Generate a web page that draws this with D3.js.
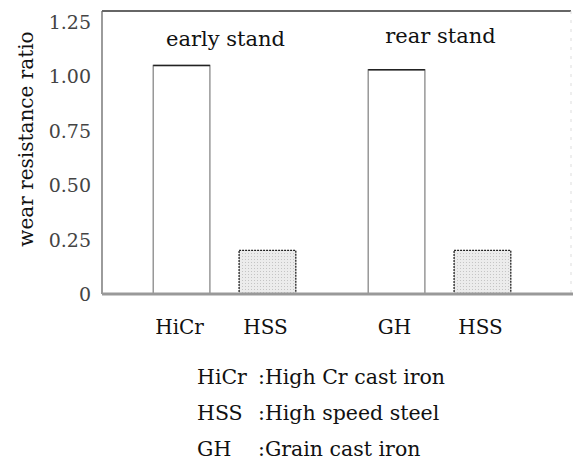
<!DOCTYPE html>
<html>
<head>
<meta charset="utf-8">
<script src="https://cdn.jsdelivr.net/npm/d3@7"></script>
<style>
  body { margin: 0; background: #fff; }
</style>
</head>
<body>
<svg id="chart" width="573" height="464" font-family="'DejaVu Serif', serif"></svg>
<script>
const groups = ['early stand', 'rear stand'];
const materials = [['HiCr', 'HSS'], ['GH', 'HSS']];
const ratios = [[1.05, 0.20], [1.03, 0.20]];
const yTicks = [0, 0.25, 0.5, 0.75, 1.0, 1.25];
const legendAbbr = ['HiCr', 'HSS', 'GH'];
const legendText = ['High Cr cast iron', 'High speed steel', 'Grain cast iron'];

const svg = d3.select('#chart');

const plotL = 102, plotR = 571, plotT = 11, plotB = 294;

const y = d3.scaleLinear().domain([0, 1.3]).range([plotB, plotT]);
const x0 = d3.scaleBand().domain(groups).range([124, 540]).paddingInner(0.065);
const x1 = d3.scaleBand().domain([0, 1]).range([0, x0.bandwidth()]).paddingInner(0.34).paddingOuter(0.34);

// stipple for HSS bars
const defs = svg.append('defs');
const pat = defs.append('pattern')
    .attr('id', 'stipple')
    .attr('patternUnits', 'userSpaceOnUse')
    .attr('width', 3).attr('height', 3);
pat.append('rect').attr('width', 3).attr('height', 3).attr('fill', '#ececec');
pat.append('rect').attr('x', 1).attr('y', 1).attr('width', 1).attr('height', 1).attr('fill', '#c4c4c4');

// frame
svg.append('line').attr('x1', plotL).attr('x2', plotR).attr('y1', plotT).attr('y2', plotT)
    .attr('stroke', '#333').attr('stroke-width', 1.6);
svg.append('line').attr('x1', plotL).attr('x2', plotL).attr('y1', plotT).attr('y2', plotB)
    .attr('stroke', '#666').attr('stroke-width', 1.3);
svg.append('line').attr('x1', plotR).attr('x2', plotR).attr('y1', plotT).attr('y2', plotB)
    .attr('stroke', '#ddd').attr('stroke-width', 1).attr('stroke-dasharray', '3,6');

// y axis labels
svg.append('g').selectAll('text')
    .data(yTicks)
    .enter().append('text')
    .attr('x', 91)
    .attr('y', d => y(d) + 7)
    .attr('text-anchor', 'end')
    .attr('font-size', 19)
    .attr('fill', '#444')
    .text(d => d === 0 ? '0' : d.toFixed(2));

svg.append('text')
    .attr('transform', 'translate(33,139) rotate(-90)')
    .attr('text-anchor', 'middle')
    .attr('font-size', 20)
    .attr('fill', '#111')
    .text('wear resistance ratio');

// bars
const g = svg.selectAll('.grp')
    .data(groups)
    .enter().append('g')
    .attr('class', 'grp')
    .attr('transform', d => `translate(${x0(d)},0)`);

g.selectAll('rect')
    .data((d, i) => ratios[i].map((v, j) => ({ v, j })))
    .enter().append('rect')
    .attr('x', d => x1(d.j))
    .attr('y', d => y(d.v))
    .attr('width', x1.bandwidth())
    .attr('height', d => y(0) - y(d.v))
    .attr('fill', d => d.j === 0 ? '#fff' : 'url(#stipple)')
    .attr('stroke', d => d.j === 0 ? '#888' : '#222')
    .attr('stroke-width', 1.3)
    .attr('stroke-dasharray', d => d.j === 0 ? null : '2,1');

// darker top edge on the tall bars
g.selectAll('.topedge')
    .data((d, i) => [{ v: ratios[i][0], j: 0 }])
    .enter().append('line')
    .attr('class', 'topedge')
    .attr('x1', d => x1(d.j))
    .attr('x2', d => x1(d.j) + x1.bandwidth())
    .attr('y1', d => y(d.v))
    .attr('y2', d => y(d.v))
    .attr('stroke', '#222')
    .attr('stroke-width', 1.5);

g.append('text')
    .attr('x', x0.bandwidth() / 2 + 1)
    .attr('y', (d, i) => i === 0 ? 46 : 43)
    .attr('text-anchor', 'middle')
    .attr('font-size', 21)
    .attr('fill', '#111')
    .text(d => d);

g.selectAll('.cat')
    .data((d, i) => materials[i].map((m, j) => ({ m, j })))
    .enter().append('text')
    .attr('class', 'cat')
    .attr('x', d => x1(d.j) + x1.bandwidth() / 2 - 2)
    .attr('y', 334)
    .attr('text-anchor', 'middle')
    .attr('font-size', 20)
    .attr('fill', '#111')
    .text(d => d.m);

// baseline
svg.append('line').attr('x1', plotL).attr('x2', 573).attr('y1', plotB).attr('y2', plotB)
    .attr('stroke', '#999').attr('stroke-width', 3);

// legend
const leg = svg.append('g').selectAll('g')
    .data(legendAbbr)
    .enter().append('g')
    .attr('transform', (d, i) => `translate(197,${384 + i * 36})`);
leg.append('text')
    .attr('font-size', 20.5)
    .attr('fill', '#111')
    .text(d => d);
leg.append('text')
    .attr('x', 61)
    .attr('font-size', 20.5)
    .attr('fill', '#111')
    .text((d, i) => ':' + legendText[i]);
</script>
</body>
</html>
